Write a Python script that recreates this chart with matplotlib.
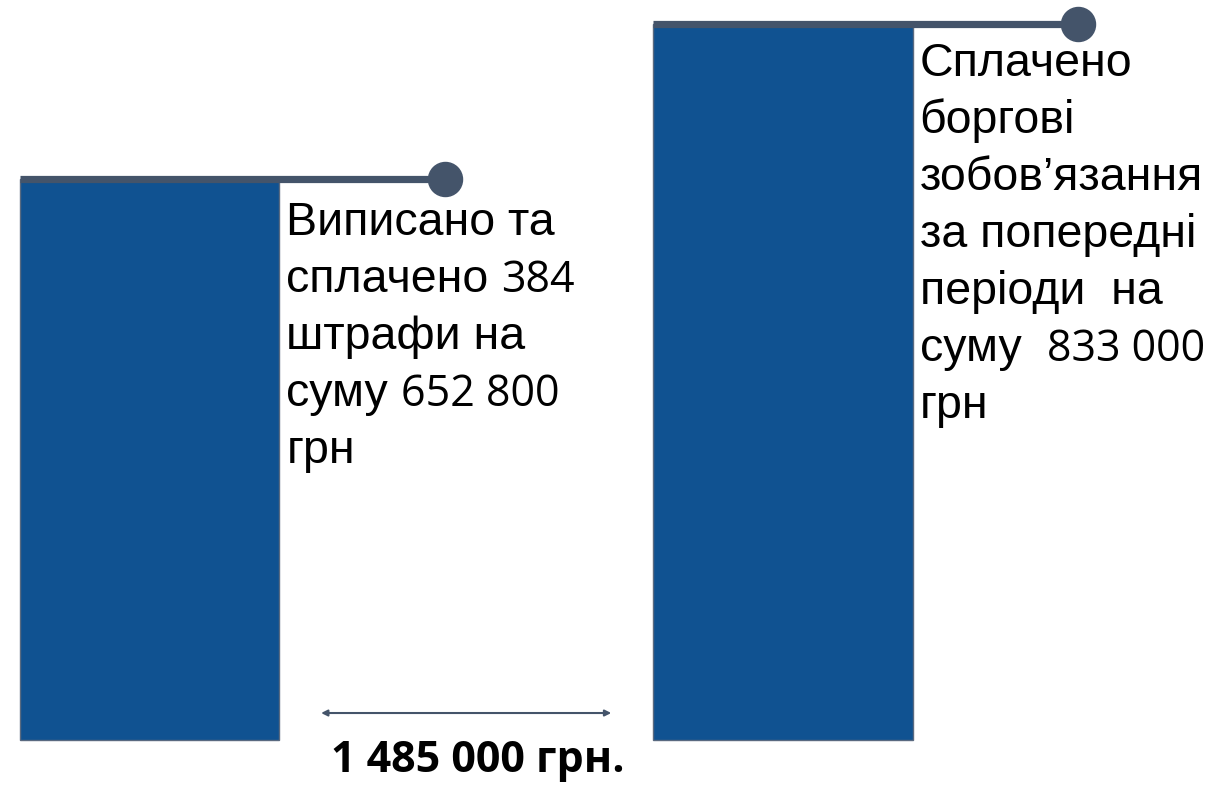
import re
import matplotlib
matplotlib.use("Agg")
import matplotlib.pyplot as plt
from matplotlib.transforms import offset_copy

# ---- data ----
categories = ["Штрафи", "Боргові зобов’язання"]
values = [652800, 833000]
labels = [
    ["Виписано та", "сплачено 384", "штрафи на", "суму 652 800", "грн"],
    ["Сплачено", "боргові", "зобов’язання", "за попередні", "періоди  на", "суму  833 000", "грн"],
]
total_label = "1 485 000 грн."

# ---- style ----
BAR_COLOR = "#105291"
EDGE_COLOR = "#5a6a80"
LINE_COLOR = "#44546a"
TEXT_FONT = "Liberation Sans"
NUM_FONT = "Open Sans"
TEXT_SIZE = 33.5
NUM_SIZE = 31
W = 0.41

fig = plt.figure(figsize=(12.18, 7.85), dpi=100)
ax = fig.add_axes([0, 0, 1, 1])
ax.axis("off")

x = list(range(len(values)))
vmax = max(values)
ax.set_xlim(-0.236, 1.687)
ax.set_ylim(-vmax * 45 / 716, vmax * 740 / 716)

ax.bar(x, values, width=W, color=BAR_COLOR, edgecolor=EDGE_COLOR, linewidth=1.0, zorder=2)

line_len = 0.671
for xi, v in zip(x, values):
    x0 = xi - W / 2
    ax.plot([x0, x0 + line_len], [v, v], color=LINE_COLOR, lw=5.2,
            solid_capstyle="butt", zorder=3)
    ax.plot([x0 + line_len], [v], "o", ms=24.5, color=LINE_COLOR, zorder=4)

renderer = fig.canvas.get_renderer()
px2pt = 72.0 / fig.dpi

first_off = [56, 52]   # px below the top line to first baseline
line_gap = 57          # px between baselines
for xi, v, lines, fo in zip(x, values, labels, first_off):
    xa = xi + W / 2
    for i, line in enumerate(lines):
        dy = -(fo + i * line_gap) * px2pt
        dx = 7 * px2pt
        parts = [p for p in re.split(r"(\d[\d ]*\d|\d)", line) if p != ""]
        for p in parts:
            is_num = p[0].isdigit()
            core = p.rstrip(" ")
            n_trail = len(p) - len(core)
            fam = NUM_FONT if is_num else TEXT_FONT
            size = NUM_SIZE if is_num else TEXT_SIZE
            tr = offset_copy(ax.transData, fig=fig, x=dx, y=dy, units="points")
            t = ax.text(xa, v, core, transform=tr, ha="left", va="baseline",
                        fontsize=size, family=fam, color="black", zorder=5)
            w = t.get_window_extent(renderer=renderer).width * px2pt
            dx += w + n_trail * 0.278 * size

# arrow between bars
gap = 0.066
ax.annotate("", xy=(x[0] + W / 2 + gap, 0.0917), xytext=(x[1] - W / 2 - gap, 0.0917),
            xycoords=("data", "axes fraction"), textcoords=("data", "axes fraction"),
            arrowprops=dict(arrowstyle="<|-|>", color=LINE_COLOR, lw=1.5,
                            mutation_scale=9, shrinkA=0, shrinkB=0))
ax.text((x[0] + x[1]) / 2 + 0.018, 0.031, total_label, transform=ax.get_xaxis_transform(),
        ha="center", va="center", fontsize=31, fontweight="bold", family=NUM_FONT,
        color="black")

fig.savefig("out.png", dpi=100)
